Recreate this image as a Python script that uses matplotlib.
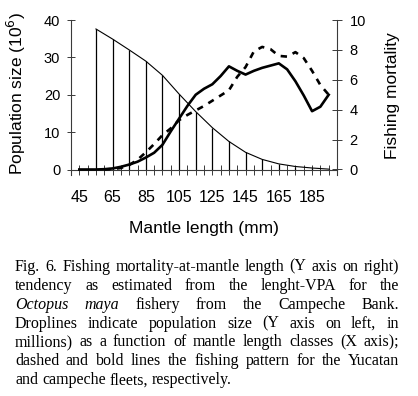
import numpy as np
import matplotlib
matplotlib.use("Agg")
import matplotlib.pyplot as plt
import matplotlib.transforms as mtransforms

# ---- data ----
fm_length = [45, 50, 55, 60, 65, 70, 75, 80, 85, 90, 95, 100, 105, 110, 115, 120,
             125, 130, 135, 140, 145, 150, 155, 160, 165, 170, 175, 180, 185, 190, 195]
campeche_F = [0, 0, 0, 0.02, 0.07, 0.18, 0.33, 0.52, 0.8, 1.12, 1.65, 2.55, 3.4, 4.25, 5.0, 5.4,
              5.7, 6.25, 6.9, 6.6, 6.35, 6.6, 6.8, 6.95, 7.1, 6.7, 5.9, 4.95, 3.9, 4.2, 5.0]
yuc_length = [60, 65, 70, 75, 80, 85, 90, 95, 100, 105, 110, 115, 120, 125, 130, 135,
              140, 145, 150, 155, 160, 165, 170, 175, 180, 185, 190, 195]
yucatan_F = [0, 0.03, 0.1, 0.3, 0.65, 1.15, 1.7, 2.3, 2.75, 3.3, 3.65, 3.95, 4.25, 4.6, 4.95, 5.3,
             6.2, 6.85, 7.9, 8.2, 8.05, 7.6, 7.55, 7.85, 7.45, 6.6, 5.65, 5.0]
pop_length = [55, 65, 75, 85, 95, 105, 115, 125, 135, 145, 155, 165, 175, 185, 195]
population = [37.6, 34.9, 32.0, 29.0, 25.2, 20.2, 15.5, 11.2, 7.5, 4.6, 2.7, 1.5, 0.8, 0.4, 0.1]

x_ticks = list(range(40, 201, 5))
x_labels = [str(v) if v in (45, 65, 85, 105, 125, 145, 165, 185) else "" for v in x_ticks]
left_ticks = [0, 10, 20, 30, 40]
right_ticks = [0, 2, 4, 6, 8, 10]

caption = [
    ([("Fig.", 0), ("6.", 0), ("Fishing", 0), ("mortality-at-mantle", 0), ("length", 0),
      ("(Y", 0), ("axis", 0), ("on", 0), ("right)", 0)], True),
    ([("tendency", 0), ("as", 0), ("estimated", 0), ("from", 0), ("the", 0),
      ("lenght-VPA", 0), ("for", 0), ("the", 0)], True),
    ([("Octopus", 1), ("maya", 1), ("fishery", 0), ("from", 0), ("the", 0),
      ("Campeche", 0), ("Bank.", 0)], True),
    ([("Droplines", 0), ("indicate", 0), ("population", 0), ("size", 0), ("(Y", 0),
      ("axis", 0), ("on", 0), ("left,", 0), ("in", 0)], True),
    ([("millions)", 0), ("as", 0), ("a", 0), ("function", 0), ("of", 0), ("mantle", 0),
      ("length", 0), ("classes", 0), ("(X", 0), ("axis);", 0)], True),
    ([("dashed", 0), ("and", 0), ("bold", 0), ("lines", 0), ("the", 0), ("fishing", 0),
      ("pattern", 0), ("for", 0), ("the", 0), ("Yucatan", 0)], True),
    ([("and", 0), ("campeche", 0), ("fleets,", 0), ("respectively.", 0)], False),
]

# ---- figure ----
W, H = 418, 396
plt.rcParams['font.family'] = ['Liberation Sans', 'DejaVu Sans']
fig = plt.figure(figsize=(W / 100, H / 100), dpi=100)
fig.patch.set_facecolor('white')

top_px, zero_px = 20.0, 169.5
ymin_left = -1.4
bottom_px = zero_px + (zero_px - top_px) * (-ymin_left) / 40.0
ax = fig.add_axes([71 / W, 1 - bottom_px / H, (337 - 71) / W, (bottom_px - top_px) / H])
ax2 = ax.twinx()

spine_c = '#3a3a3a'
ax.set_xlim(40, 200)
ax.set_ylim(ymin_left, 40)
ax2.set_ylim(ymin_left / 4.0, 10)

# droplines + population curve
ax.vlines(pop_length, 0, population, colors='black', linewidth=0.9)
ax.plot(pop_length, population, color='black', linewidth=0.8)

# fishing mortality lines
ax2.plot(fm_length, campeche_F, color='black', linewidth=1.9, solid_joinstyle='round')
ax2.plot(yuc_length, yucatan_F, color='black', linewidth=1.9, linestyle=(0, (2.4, 2.4)),
         dash_capstyle='butt')

for s in ['top', 'right']:
    ax.spines[s].set_visible(False)
for s in ['top', 'left', 'bottom']:
    ax2.spines[s].set_visible(False)
ax.spines['bottom'].set_position(('data', 0))
for sp in [ax.spines['left'], ax.spines['bottom'], ax2.spines['right']]:
    sp.set_color(spine_c)
    sp.set_linewidth(0.8)

ax.set_xticks(x_ticks)
ax.set_xticklabels(x_labels, fontsize=11.5)
ax.tick_params(axis='x', direction='inout', length=7, width=0.7, color=spine_c, pad=11)
ax.set_yticks(left_ticks)
ax.set_yticklabels([str(v) for v in left_ticks], fontsize=10.5)
ax.tick_params(axis='y', direction='inout', length=5.5, width=0.7, color=spine_c, pad=5)
ax2.set_yticks(right_ticks)
ax2.set_yticklabels([str(v) for v in right_ticks], fontsize=10.5)
ax2.tick_params(axis='y', direction='inout', length=7, width=0.7, color=spine_c, pad=5.5)

ident = mtransforms.IdentityTransform()
fig.text(16, H - 94, "Population size (10$^6$)", rotation=90, fontsize=12.5,
         ha='center', va='center', transform=ident)
fig.text(392, H - 95.5, "Fishing mortality", rotation=90, fontsize=12.5,
         ha='center', va='center', transform=ident)
fig.text(203.5, H - 232.5, "Mantle length (mm)", fontsize=12.5,
         ha='center', va='baseline', transform=ident)

# ---- justified caption ----
renderer = fig.canvas.get_renderer()
x_left, x_right = 15.0, 399.0
fs = 11.5
space_px = fs * 100 / 72 * 0.25
for i, (words, justify) in enumerate(caption):
    yb = H - (270.7 + i * 18.95)
    texts = []
    for w, it in words:
        t = fig.text(0, yb, w, fontsize=fs, family=['Liberation Serif', 'DejaVu Serif'],
                     style='italic' if it else 'normal', ha='left', va='baseline',
                     transform=ident)
        texts.append(t)
    widths = [t.get_window_extent(renderer).width for t in texts]
    if justify and len(texts) > 1:
        gap = (x_right - x_left - sum(widths)) / (len(texts) - 1)
    else:
        gap = space_px
    x = x_left
    for t, wd in zip(texts, widths):
        t.set_x(x)
        x += wd + gap

fig.savefig("out.png", dpi=100)
